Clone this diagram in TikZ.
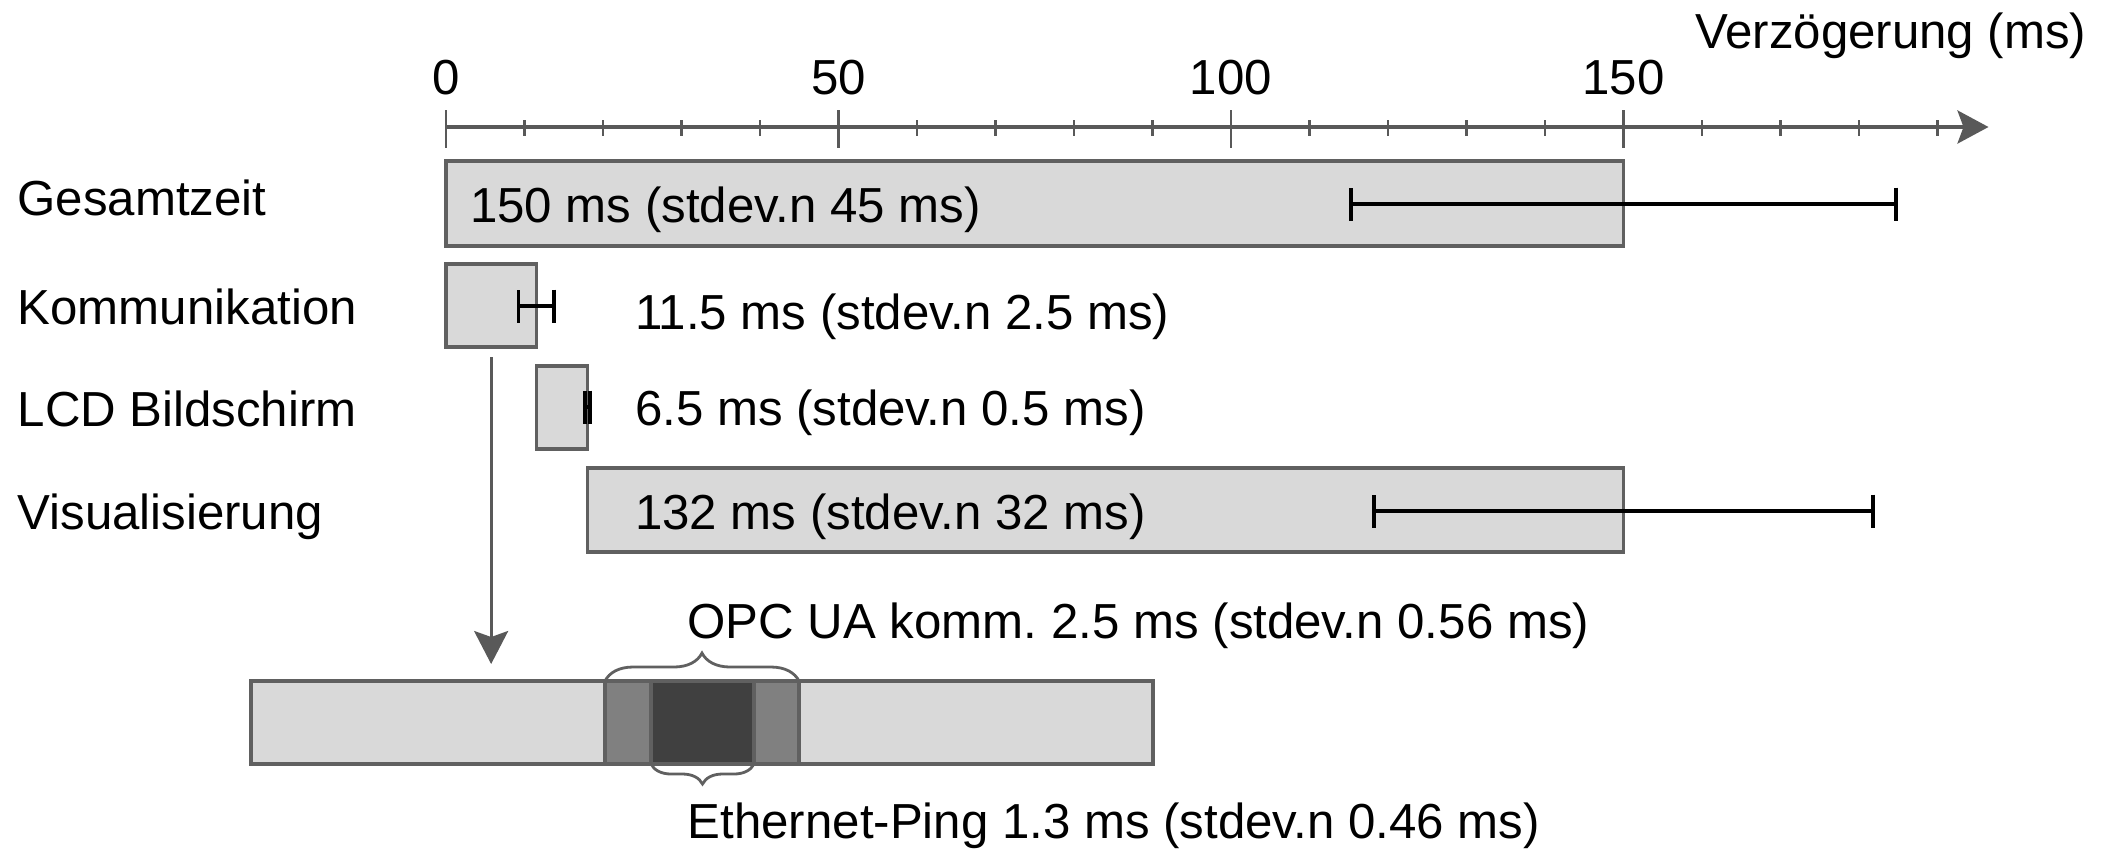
\documentclass[tikz,border=0pt]{standalone}
\usepackage{fontspec}
\setmainfont{Liberation Sans}
\usepackage{xcolor}
\usepackage{tikz}
\usetikzlibrary{fit}
\usetikzlibrary{arrows.meta}
\usetikzlibrary{decorations.pathreplacing}
\frenchspacing

\definecolor{barfill}{HTML}{D9D9D9}
\definecolor{barline}{HTML}{606060}
\definecolor{axisgray}{HTML}{595959}
\definecolor{opcgray}{HTML}{808080}
\definecolor{pinggray}{HTML}{404040}

\begin{document}
\begin{tikzpicture}[x=0.1mm, y=-0.1mm, font=\fontsize{14pt}{17pt}\selectfont,
  txt/.style={inner sep=0pt, anchor=base west},
  bar/.style={draw=barline, fill=barfill, line width=0.35mm, inner sep=0pt, outer sep=0pt},
  errbar/.style={line width=0.38mm, arrows={Bar[width=3.3mm]-Bar[width=3.3mm]}},
  tick/.style={draw=axisgray, line width=0.22mm},
  brace/.style={draw=barline, line width=0.28mm, decorate, decoration={brace, amplitude=#1}}]
\useasboundingbox (0,0) rectangle (2105,850);

\node [txt] (gesamt) at (17,215) {Gesamtzeit};
\node [txt] (komm) at (17,324) {Kommunikation};
\node [txt] (lcd) at (17,426) {LCD Bildschirm};
\node [txt] (vis) at (17,529) {Visualisierung};
\node [txt, anchor=base east] (unit) at (2087,48) {Verzögerung (ms)};

% time axis, 1 unit = 1 ms
\begin{scope}[shift={(446,0)}, x=0.785mm]
\draw [draw=axisgray, line width=0.4mm, -{Stealth[length=3.1mm, width=3.3mm, inset=0.6mm]}] (0,127) -- (196.5,127);
\foreach \t in {0,10,...,190}
  \draw [tick] (\t,120) -- (\t,136);
\foreach \t in {0,50,100,150} {
  \draw [tick] (\t,110) -- (\t,148);
  \node [inner sep=0pt, anchor=base] (tick\t) at (\t,94) {\t};
}

\node [bar, fit={(0,161) (150,246)}] (gesamtbar) {};
\node [txt] (gesamtval) at (3,222) {150 ms (stdev.n 45 ms)};
\draw [errbar] (115,204) -- (185,204);

\node [bar, fit={(0,264) (11.5,347)}] (kommbar) {};
\node [txt] (kommval) at (24,329) {11.5 ms (stdev.n 2.5 ms)};
\draw [errbar] (9,306) -- (14,306);

\node [bar, fit={(11.5,366) (18,449)}] (lcdbar) {};
\node [txt] (lcdval) at (24,425) {6.5 ms (stdev.n 0.5 ms)};
\draw [errbar] (17.5,407) -- (18.6,407);

\node [bar, fit={(18,468) (150,552)}] (visbar) {};
\node [txt] (visval) at (24,529) {132 ms (stdev.n 32 ms)};
\draw [errbar] (118,511) -- (182,511);
\end{scope}

% detail of the communication
\node [bar, fit={(251,681) (1153,764)}] (detailbar) {};
\node [bar, fill=opcgray, fit={(605,681) (799,764)}] (opcbox) {};
\node [bar, fill=pinggray, fit={(651,681) (754,764)}] (pingbox) {};
\draw [brace=2.8mm] (opcbox.north west) -- (opcbox.north east);
\draw [brace=2mm] (pingbox.south east) -- (pingbox.south west);
\node [txt] (opcval) at (687,638) {OPC UA komm. 2.5 ms (stdev.n 0.56 ms)};
\node [txt] (pingval) at (687,838) {Ethernet-Ping 1.3 ms (stdev.n 0.46 ms)};

\draw [draw=axisgray, line width=0.3mm, shorten <=1mm, shorten >=1.7mm,
  -{Stealth[length=3.3mm, width=3.4mm, inset=0.6mm]}] (kommbar.south) -- (kommbar.south |- detailbar.north);
\end{tikzpicture}
\end{document}
